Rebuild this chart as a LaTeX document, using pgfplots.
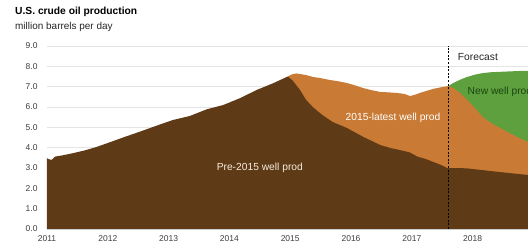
\documentclass[border=0pt]{standalone}
\usepackage{fontspec}
\setmainfont{Liberation Sans}
\usepackage{pgfplots}
\pgfplotsset{compat=1.18}
\definecolor{darkb}{RGB}{94,58,22}
\definecolor{orangeb}{RGB}{201,122,52}
\definecolor{greenb}{RGB}{94,160,62}
\definecolor{gridc}{RGB}{228,228,228}
\definecolor{txt}{RGB}{60,60,60}
\definecolor{newtxt}{RGB}{25,70,15}
\begin{document}
\begin{tikzpicture}
\begin{axis}[
 scale only axis, width=481bp, height=183bp,
 xmin=2011, xmax=2018.91, ymin=0, ymax=9,
 xtick={2011,...,2018}, ytick={0,1,...,9},
 ymajorgrids, grid style={gridc, line width=0.6pt},
 axis x line*=bottom, axis y line*=left,
 y axis line style={draw=none},
 x axis line style={draw=gray!40},
 major tick length=0pt,
 /pgf/number format/assume math mode=true,
 ticklabel style={font=\fontsize{8.5}{10}\selectfont, text=txt},
 xticklabel style={/pgf/number format/1000 sep={}, yshift=-3bp},
 yticklabel style={/pgf/number format/.cd, fixed, fixed zerofill, precision=1, /tikz/.cd, xshift=-6bp},
 clip=true,
]
% New well production (top of stack, forecast)
\addplot[draw=none, fill=greenb] coordinates {
 (2017.60,7.03) (2017.68,7.18) (2017.80,7.35) (2017.91,7.48) (2018.05,7.60)
 (2018.17,7.67) (2018.30,7.71) (2018.45,7.73) (2018.60,7.75) (2018.75,7.77)
 (2018.91,7.78) (2019.00,7.79)
} \closedcycle;
% 2015-latest well production
\addplot[draw=none, fill=orangeb] coordinates {
 (2014.96,7.50) (2015.00,7.57) (2015.05,7.62) (2015.10,7.65) (2015.16,7.62)
 (2015.25,7.58) (2015.37,7.48) (2015.50,7.42) (2015.65,7.33) (2015.80,7.26)
 (2015.93,7.18) (2016.05,7.08) (2016.20,6.93) (2016.35,6.82) (2016.48,6.74)
 (2016.62,6.72) (2016.76,6.69) (2016.88,6.64) (2016.97,6.54) (2017.05,6.60)
 (2017.13,6.69) (2017.25,6.80) (2017.35,6.89) (2017.48,6.97) (2017.60,7.03)
 (2017.68,6.94) (2017.80,6.68) (2017.91,6.35) (2018.05,5.90) (2018.17,5.50)
 (2018.30,5.22) (2018.45,4.97) (2018.60,4.73) (2018.73,4.53) (2018.91,4.28)
 (2019.00,4.15)
} \closedcycle;
% Pre-2015 well production
\addplot[draw=none, fill=darkb] coordinates {
 (2011.00,3.48) (2011.03,3.43) (2011.08,3.40) (2011.13,3.56) (2011.25,3.62)
 (2011.43,3.73) (2011.60,3.85) (2011.80,4.02) (2012.00,4.23) (2012.25,4.50)
 (2012.53,4.79) (2012.80,5.08) (2013.07,5.36) (2013.35,5.56) (2013.63,5.89)
 (2013.90,6.10) (2014.17,6.43) (2014.45,6.84) (2014.72,7.17) (2014.96,7.50)
 (2015.04,7.30) (2015.16,6.84) (2015.26,6.35) (2015.37,6.00) (2015.53,5.60)
 (2015.70,5.26) (2015.93,4.97) (2016.20,4.53) (2016.48,4.13) (2016.65,3.98)
 (2016.78,3.90) (2016.97,3.76) (2017.09,3.56) (2017.22,3.45) (2017.35,3.30)
 (2017.48,3.15) (2017.58,3.00) (2017.75,3.00) (2017.91,2.98) (2018.15,2.90)
 (2018.45,2.80) (2018.70,2.72) (2018.91,2.66) (2019.00,2.63)
} \closedcycle;
% forecast divider
\draw[black, line width=1.1pt, dash pattern=on 2pt off 1.6pt] (axis cs:2017.6,0) -- (axis cs:2017.6,9);
\node[anchor=west, font=\fontsize{10.3}{12}\selectfont, text=black!85] at (axis cs:2017.70,8.46) {Forecast};
\node[font=\fontsize{10.3}{12}\selectfont, text={rgb,255:red,245;green,235;blue,222}] at (axis cs:2014.50,3.0) {Pre-2015 well prod};
\node[font=\fontsize{10.3}{12}\selectfont, text=white] at (axis cs:2016.69,5.46) {2015-latest well prod};
\node[overlay, anchor=west, font=\fontsize{10.3}{12}\selectfont, text=newtxt] at (axis cs:2017.86,6.74) {New well prod};
\end{axis}
\node[anchor=west, inner sep=0pt, font=\fontsize{10.3}{12}\selectfont\bfseries] at (-32bp,216.7bp) {U.S. crude oil production};
\node[anchor=west, inner sep=0pt, font=\fontsize{10}{12}\selectfont, text=black!85] at (-32bp,202bp) {million barrels per day};
\pgfresetboundingbox
\useasboundingbox (-47bp,-20bp) rectangle (481bp,229bp);
\end{tikzpicture}
\end{document}
